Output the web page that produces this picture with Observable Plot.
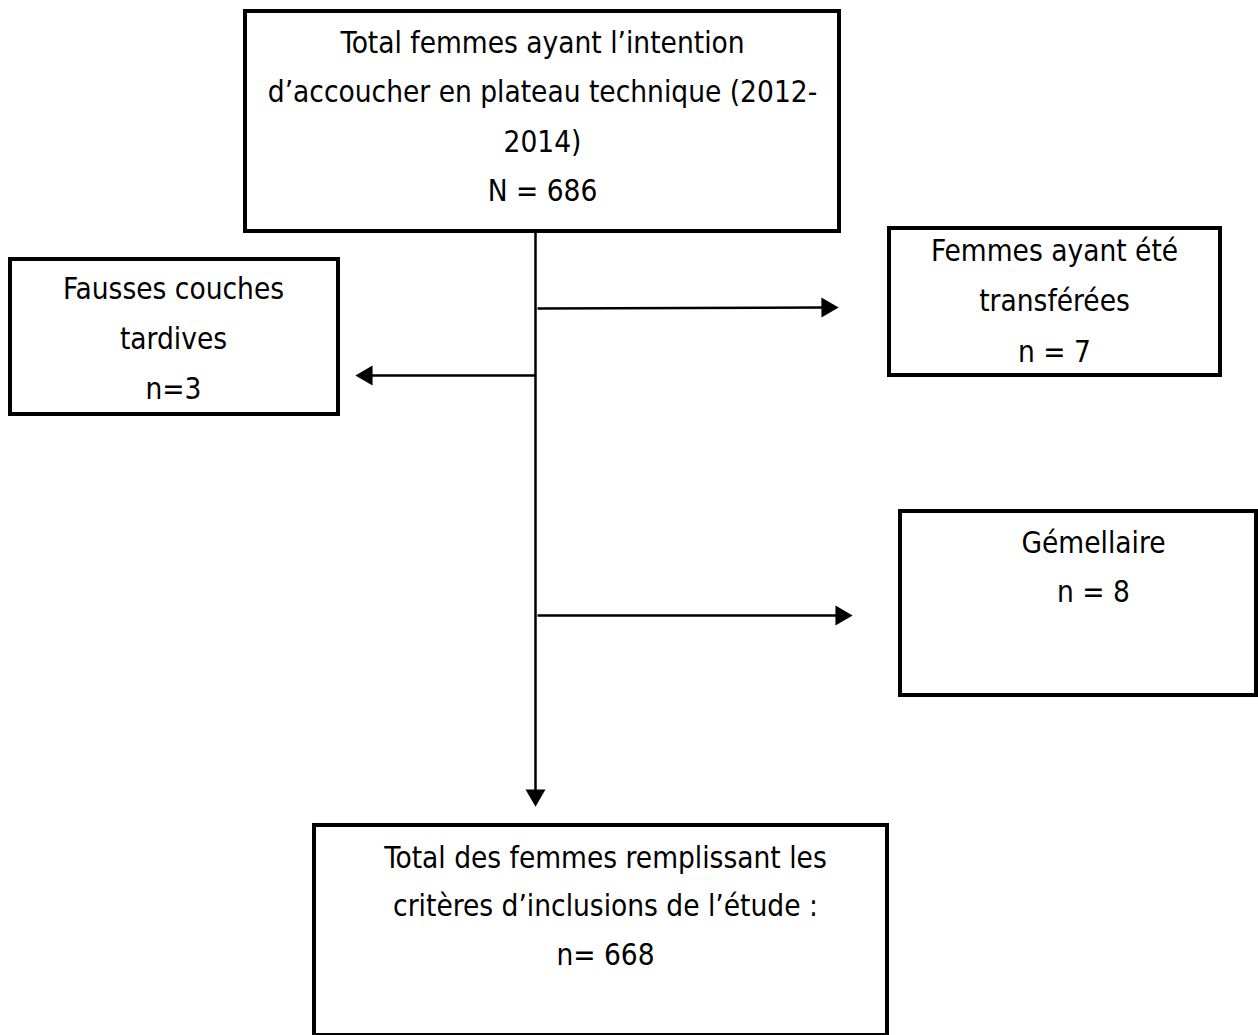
<!DOCTYPE html>
<html>
<head>
<meta charset="utf-8">
<script src="https://cdn.jsdelivr.net/npm/d3@7"></script>
<script src="https://cdn.jsdelivr.net/npm/@observablehq/plot@0.6"></script>
<style>
  html, body { margin: 0; padding: 0; background: #fff; }
  #chart svg { display: block; }
</style>
</head>
<body>
<div id="chart"></div>
<script>
// ---- Content (text of each box) ----
const boxNames = ["total", "fausses", "transferees", "gemellaire", "inclues"];
const boxLines = [
  ["Total femmes ayant l’intention", "d’accoucher en plateau technique (2012-", "2014)", "N = 686"],
  ["Fausses couches", "tardives", "n=3"],
  ["Femmes ayant été", "transférées", "n = 7"],
  ["Gémellaire", "n = 8"],
  ["Total des femmes remplissant les", "critères d’inclusions de l’étude :", "n= 668"]
];

// ---- Layout (pixel frame of the flowchart) ----
const boxX1 = [245, 10, 889, 900, 314];
const boxX2 = [839, 338, 1220, 1256, 887];
const boxY1 = [11, 259, 228, 511, 825];
const boxY2 = [231, 414, 375, 695, 1035];
const textX = [542, 173, 1054, 1093, 605];
const textY0 = [43, 289, 251, 543, 858];
const lineGap = [49.3, 50, 50.5, 49, 48.5];

// connector trunk and side arrows: [x1, y1, x2, y2]
const arrowX1 = [535, 537, 535, 537];
const arrowY1 = [231, 308, 375, 615];
const arrowX2 = [535, 838, 355, 852];
const arrowY2 = [806, 307, 375, 615];

// ---- Build tables ----
const boxes = boxNames.map((n, i) => ({name: n, x1: boxX1[i], x2: boxX2[i], y1: boxY1[i], y2: boxY2[i]}));
const texts = [];
boxLines.forEach((lines, i) => lines.forEach((t, j) => texts.push({text: t, x: textX[i], y: textY0[i] + j * lineGap[i]})));

const headLen = 17;
const arrows = arrowX1.map((x1, i) => {
  const x2 = arrowX2[i], y1 = arrowY1[i], y2 = arrowY2[i];
  const dx = x2 - x1, dy = y2 - y1, L = Math.hypot(dx, dy);
  const ux = dx / L, uy = dy / L;
  const ang = Math.atan2(dy, dx) * 180 / Math.PI; // 0 = right
  return {
    x1, y1,
    x2: x2 - ux * (headLen - 2), y2: y2 - uy * (headLen - 2),
    hx: x2 - ux * headLen * 2 / 3, hy: y2 - uy * headLen * 2 / 3,
    rot: ang + 90
  };
});

const W = 1258, H = 1035;
const chart = Plot.plot({
  width: W, height: H,
  margin: 0,
  x: {domain: [0, W], range: [0, W], axis: null},
  y: {domain: [0, H], range: [0, H], axis: null},
  style: {background: "#fff"},
  marks: [
    Plot.rect(boxes, {x1: "x1", x2: "x2", y1: "y1", y2: "y2", fill: "#fff", stroke: "#000", strokeWidth: 4}),
    Plot.link(arrows, {x1: "x1", y1: "y1", x2: "x2", y2: "y2", stroke: "#000", strokeWidth: 2.5}),
    Plot.dot(arrows, {x: "hx", y: "hy", symbol: "triangle", r: 7.4, fill: "#000", stroke: null, rotate: "rot"}),
    Plot.text(texts, {x: "x", y: "y", text: "text", fontSize: 29.5, fill: "#000",
      fontFamily: "'DejaVu Sans Condensed', 'DejaVu Sans', sans-serif", lineAnchor: "middle", textAnchor: "middle"})
  ]
});
document.getElementById("chart").appendChild(chart);
</script>
</body>
</html>
